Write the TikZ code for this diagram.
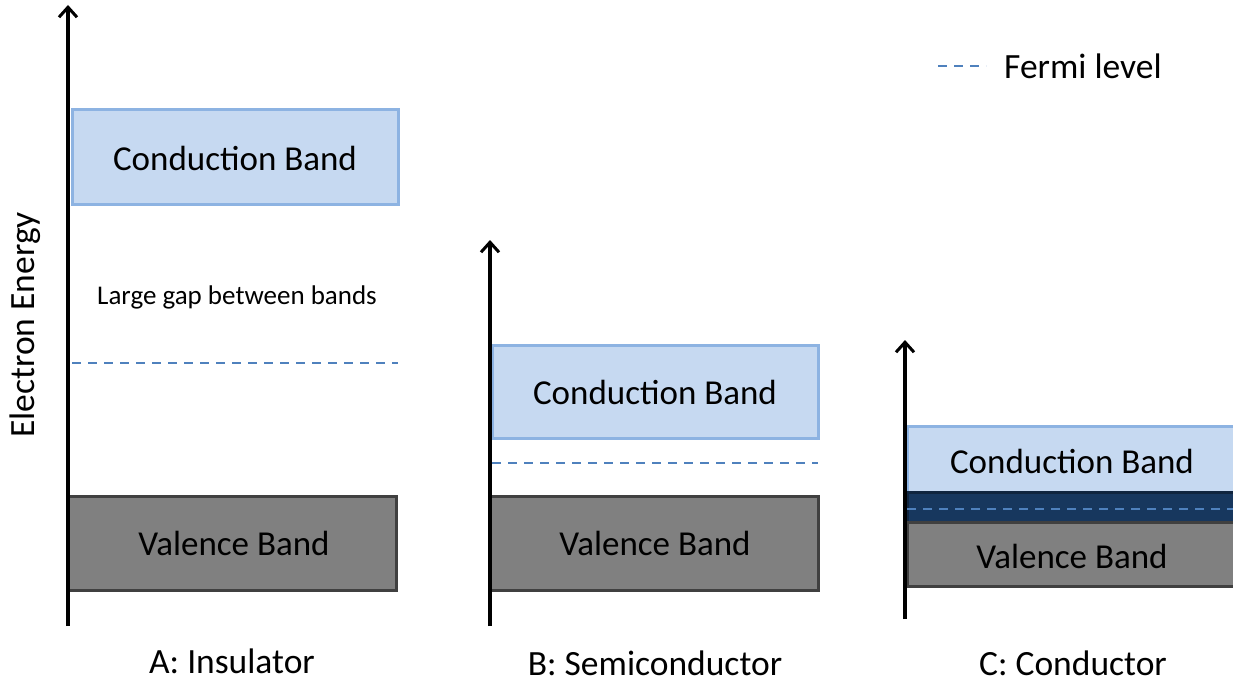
\documentclass[tikz,border=0pt]{standalone}
\usepackage{fontspec}
\setmainfont{Carlito}
\usetikzlibrary{arrows.meta}
\definecolor{cbfill}{HTML}{C6D9F1}
\definecolor{cbline}{HTML}{8DB3E2}
\definecolor{vbfill}{HTML}{808080}
\definecolor{vbline}{HTML}{404040}
\definecolor{ovfill}{HTML}{17375E}
\definecolor{ovline}{HTML}{10253F}
\definecolor{fermi}{HTML}{4F81BD}
\tikzset{
  axis/.style={line width=3.2pt, -{Straight Barb[length=10pt,width=18pt,line width=3pt]}},
  cband/.style={draw=cbline, fill=cbfill, line width=3pt},
  vband/.style={draw=vbline, fill=vbfill, line width=3pt},
  oband/.style={draw=ovline, fill=ovfill, line width=3pt},
  fermiline/.style={draw=fermi, line width=2.2pt, dash pattern=on 9pt off 7pt},
  bandtext/.style={font=\fontsize{35}{40}\selectfont, text=black},
  title/.style={font=\fontsize{35.5}{40}\selectfont, inner sep=0pt},
}
\begin{document}
\begin{tikzpicture}[x=1pt,y=-1pt]
\useasboundingbox (0,0) rectangle (1233,679);

% A: insulator
\draw[cband] (72,110) rectangle (398,204);
\node[bandtext] (cbA) at (235,158) {Conduction Band};
\node[font=\fontsize{27}{30}\selectfont] (gapA) at (237,297) {Large gap between bands};
\coordinate (fA1) at (72,363); \coordinate (fA2) at (398,363);
\draw[fermiline] (fA1) -- (fA2);
\draw[vband] (68,496) rectangle (396,590);
\node[bandtext] (vbA) at (234,543) {Valence Band};
\coordinate (axA0) at (68,626); \coordinate (axA1) at (68,5);
\draw[axis] (axA0) -- (axA1);
\node[title] (tA) at (232,661) {A: Insulator};

% B: semiconductor
\draw[cband] (492,345) rectangle (818,438);
\node[bandtext] (cbB) at (655,392) {Conduction Band};
\coordinate (fB1) at (492,463); \coordinate (fB2) at (818,463);
\draw[fermiline] (fB1) -- (fB2);
\draw[vband] (490,496) rectangle (818,590);
\node[bandtext] (vbB) at (655,543) {Valence Band};
\coordinate (axB0) at (490,626); \coordinate (axB1) at (490,240);
\draw[axis] (axB0) -- (axB1);
\node[title] (tB) at (655,663) {B: Semiconductor};

% C: conductor
\draw[cband] (907,426) rectangle (1245,492);
\node[bandtext] (cbC) at (1072,461) {Conduction Band};
\draw[oband] (907,492) rectangle (1245,522);
\coordinate (fC1) at (907,509); \coordinate (fC2) at (1233,509);
\draw[fermiline] (fC1) -- (fC2);
\draw[vband] (907,522) rectangle (1245,586);
\node[bandtext] (vbC) at (1072,556) {Valence Band};
\coordinate (axC0) at (905,619); \coordinate (axC1) at (905,340);
\draw[axis] (axC0) -- (axC1);
\node[title] (tC) at (1073,663) {C: Conductor};

% axis label
\node[title, rotate=90] (ee) at (25,325) {Electron Energy};

% legend
\coordinate (lg1) at (938,66); \coordinate (lg2) at (986,66);
\draw[fermiline] (lg1) -- (lg2);
\node[title, anchor=west] (lgt) at (1004,66) {Fermi level};
\end{tikzpicture}
\end{document}
